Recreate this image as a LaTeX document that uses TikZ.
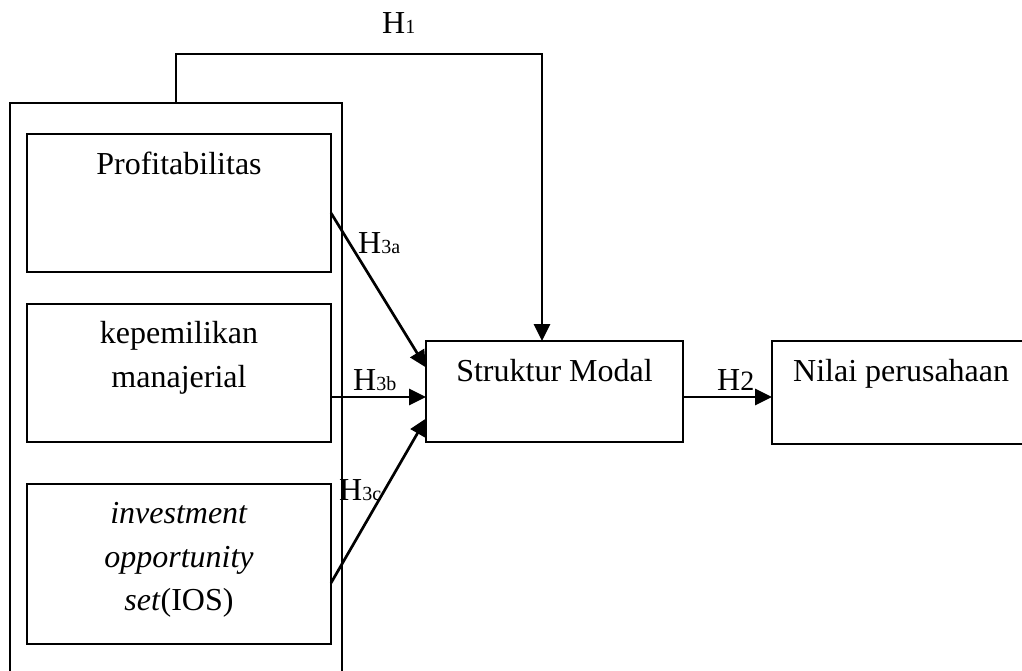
\documentclass[tikz,border=0pt]{standalone}
\usepackage{fontspec}
\setmainfont{Liberation Serif}
\usetikzlibrary{arrows.meta}
\begin{document}
\begin{tikzpicture}[x=1pt,y=-1pt,
  box/.style={draw=black, line width=2.1pt, rectangle, inner sep=0pt, outer sep=0pt},
  txt/.style={anchor=base, inner sep=0pt, font=\fontsize{32}{43}\selectfont},
  lbl/.style={anchor=base west, inner sep=0pt, font=\fontsize{32}{43}\selectfont},
  conn/.style={line width=2.7pt, -{Triangle[length=17pt,width=16pt]}}]
\clip (0,0) rectangle (1022,670);
\fill[white] (0,0) rectangle (1022,670);
% boxes
\node[box, minimum width=332pt, minimum height=590pt] (outer) at (176,398) {};
\node[box, minimum width=304pt, minimum height=138pt] (prof) at (179,203) {};
\node[box, minimum width=304pt, minimum height=138pt] (kepem) at (179,373) {};
\node[box, minimum width=304pt, minimum height=160pt] (invest) at (179,564) {};
\node[box, minimum width=257pt, minimum height=101pt] (struk) at (554.5,391.5) {};
\node[box, minimum width=258pt, minimum height=103pt] (nilai) at (901,392.5) {};
% texts
\node[txt] (tprof) at (179,174) {Profitabilitas};
\node[txt] (tkep1) at (179,343) {kepemilikan};
\node[txt] (tkep2) at (179,387) {manajerial};
\node[txt] (tinv1) at (179,523) {\textit{investment}};
\node[txt] (tinv2) at (179,567) {\textit{opportunity}};
\node[txt] (tinv3) at (179,610) {\textit{set}(IOS)};
\node[txt] (tstruk) at (554.5,381) {Struktur Modal};
\node[lbl] (tnilai) at (793,381) {Nilai perusahaan};
% connectors
\coordinate (h1c) at (542,54);
\draw[conn] (outer.north) |- (h1c) -- (h1c |- struk.north);
\draw[conn] ([yshift=-10pt]prof.east) -- ([yshift=24pt]struk.west);
\draw[conn] ([yshift=-24pt]kepem.east) -- ([yshift=-5.5pt]struk.west);
\draw[conn] ([yshift=-19pt]invest.east) -- ([yshift=-27pt]struk.west);
\draw[conn] ([yshift=-5.5pt]struk.east) -- ([yshift=-4.5pt]nilai.west);
% labels
\node[lbl] (h1) at (382,33) {H{\fontsize{20}{20}\selectfont 1}};
\node[lbl] (h3a) at (358,253) {H{\fontsize{20}{20}\selectfont 3a}};
\node[lbl] (h3b) at (353,390) {H{\fontsize{20}{20}\selectfont 3b}};
\node[lbl] (h3c) at (339,500) {H{\fontsize{20}{20}\selectfont 3c}};
\node[lbl] (h2) at (717,390) {H{\fontsize{28}{28}\selectfont 2}};
\end{tikzpicture}
\end{document}
